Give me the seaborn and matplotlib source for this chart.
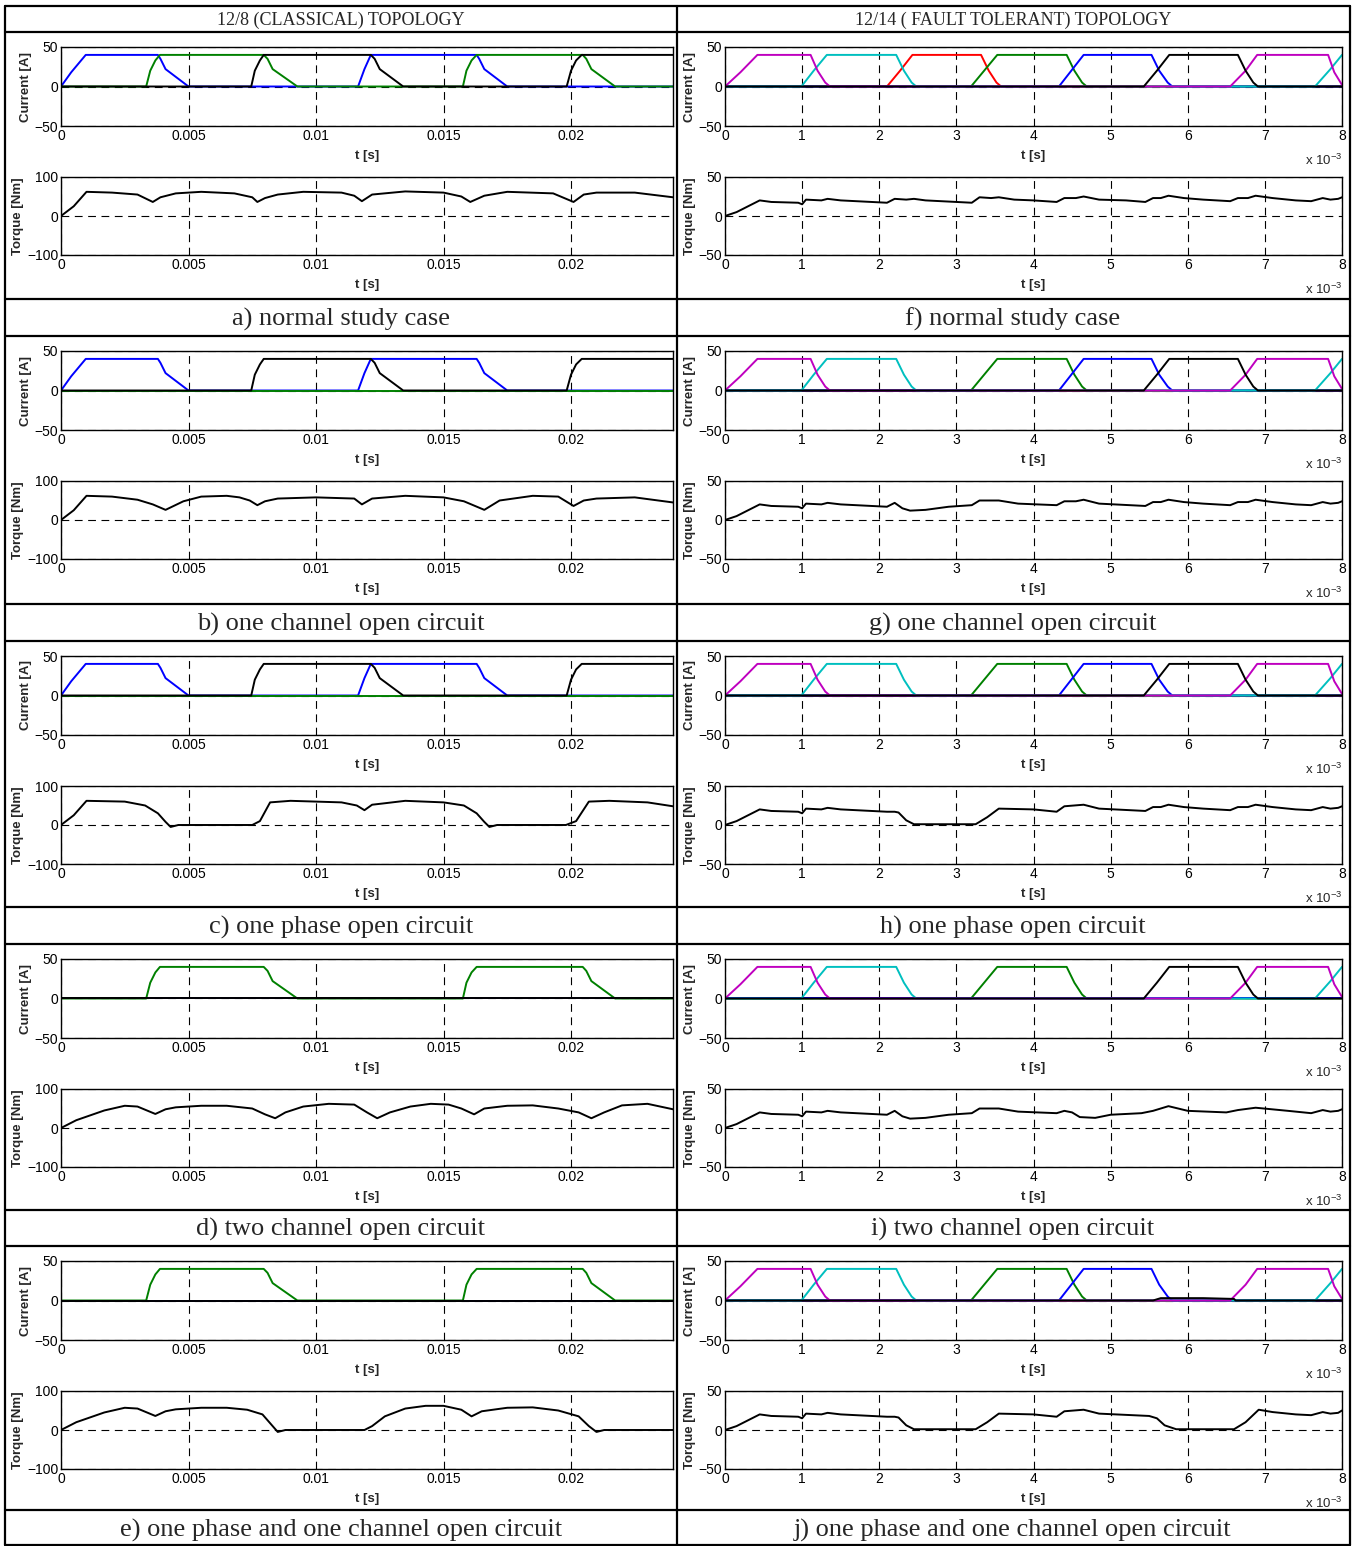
import matplotlib
matplotlib.use('Agg')
import matplotlib.pyplot as plt
from matplotlib.lines import Line2D
import seaborn as sns

# ---------------- 12/8 classical topology (time in s) ----------------
t_blue = [0, 0.0004, 0.00097, 0.0038, 0.0039, 0.0041, 0.0050, 0.01165, 0.0119, 0.01215,
          0.0163, 0.0164, 0.0166, 0.0175, 0.024]
i_blue = [0, 18, 40, 40, 35, 22, 0, 0, 22, 40, 40, 35, 22, 0, 0]

t_green = [0, 0.00334, 0.0035, 0.0037, 0.00388, 0.00795, 0.0081, 0.0083, 0.00927,
           0.01576, 0.0159, 0.0161, 0.0163, 0.02046, 0.0206, 0.0208, 0.02173, 0.024]
i_green = [0, 0, 20, 33, 40, 40, 35, 22, 0, 0, 20, 33, 40, 40, 35, 22, 0, 0]

t_black = [0, 0.00746, 0.0076, 0.0078, 0.00795, 0.01215, 0.0123, 0.0125, 0.01342,
           0.01983, 0.0200, 0.0202, 0.02042, 0.024]
i_black = [0, 0, 20, 33, 40, 40, 35, 22, 0, 0, 20, 33, 40, 40]

t_off_l = [0, 0.024]
i_off_l = [0, 0]

t_Ta = [0, 0.0005, 0.001, 0.002, 0.003, 0.0036, 0.0039, 0.0045, 0.0055, 0.0068,
        0.0075, 0.0077, 0.008, 0.0085, 0.0095, 0.011, 0.0115, 0.0118, 0.0122, 0.0135,
        0.015, 0.0157, 0.01605, 0.0166, 0.0175, 0.0193, 0.0201, 0.0205, 0.021, 0.0225, 0.024]
T_a = [0, 25, 62, 60, 55, 36, 48, 58, 62, 58,
       48, 36, 46, 55, 62, 60, 52, 38, 55, 63,
       60, 50, 36, 52, 62, 58, 36, 55, 60, 60, 48]

t_Tb = [0, 0.0005, 0.001, 0.002, 0.003, 0.0036, 0.0041, 0.0048, 0.0055, 0.0065,
        0.007, 0.0074, 0.0077, 0.008, 0.0085, 0.01, 0.0115, 0.0118, 0.0122, 0.0135,
        0.015, 0.0158, 0.0166, 0.0172, 0.0185, 0.0195, 0.0201, 0.0205, 0.021, 0.0225, 0.024]
T_b = [0, 25, 62, 60, 52, 40, 26, 48, 60, 62,
       58, 50, 38, 48, 55, 58, 55, 40, 55, 62,
       58, 48, 26, 50, 62, 60, 36, 50, 55, 58, 45]

t_Tc = [0, 0.0005, 0.001, 0.0025, 0.0033, 0.0038, 0.0041, 0.0043, 0.0046, 0.0075,
        0.0078, 0.0082, 0.009, 0.011, 0.0116, 0.0119, 0.0122, 0.0126, 0.0135, 0.015,
        0.0158, 0.0163, 0.0166, 0.0168, 0.0171, 0.0198, 0.0202, 0.0207, 0.0215, 0.023, 0.024]
T_c = [0, 25, 62, 60, 50, 30, 8, -5, 0, 0,
       10, 58, 62, 58, 50, 38, 52, 55, 62, 58,
       50, 30, 8, -5, 0, 0, 10, 60, 62, 58, 48]

t_Td = [0, 0.0006, 0.0017, 0.0025, 0.003, 0.0037, 0.0041, 0.0045, 0.0055, 0.0065,
        0.0075, 0.008, 0.0084, 0.0088, 0.0095, 0.0105, 0.0115, 0.012, 0.0124, 0.0129,
        0.0137, 0.0145, 0.0152, 0.0157, 0.0162, 0.0166, 0.0175, 0.0185, 0.0195, 0.0203,
        0.0208, 0.0213, 0.022, 0.023, 0.024]
T_d = [0, 20, 45, 57, 55, 36, 48, 53, 57, 57,
       50, 35, 25, 40, 55, 62, 60, 40, 25, 40,
       55, 62, 60, 50, 35, 50, 57, 58, 50, 40,
       25, 40, 58, 62, 48]

t_Te = [0, 0.0006, 0.0017, 0.0025, 0.003, 0.0037, 0.0041, 0.0045, 0.0055, 0.0065,
        0.0073, 0.0079, 0.0083, 0.0085, 0.0088, 0.0119, 0.0122, 0.0127, 0.0135, 0.0143,
        0.015, 0.0157, 0.0161, 0.0165, 0.0175, 0.0185, 0.0195, 0.0203, 0.0207, 0.021,
        0.0213, 0.024]
T_e = [0, 20, 45, 57, 55, 36, 48, 53, 57, 57,
       52, 40, 10, -5, 0, 0, 10, 35, 55, 62,
       62, 52, 35, 48, 57, 58, 50, 35, 10, -5,
       0, 0]

# ---------------- 12/14 fault tolerant topology (time in ms) ----------------
t_red = [0, 2.1, 2.27, 2.43, 3.32, 3.42, 3.52, 3.58, 8.0]
i_red = [0, 0, 20, 40, 40, 20, 5, 0, 0]
t_grn = [0, 3.19, 3.36, 3.53, 4.43, 4.53, 4.63, 4.69, 8.0]
i_grn = [0, 0, 20, 40, 40, 20, 5, 0, 0]
t_blu = [0, 4.33, 4.49, 4.65, 5.53, 5.63, 5.74, 5.8, 8.0]
i_blu = [0, 0, 20, 40, 40, 20, 5, 0, 0]
t_cyn = [0, 0.99, 1.15, 1.32, 2.22, 2.32, 2.42, 2.48, 7.65, 7.85, 8.0]
i_cyn = [0, 0, 20, 40, 40, 20, 5, 0, 0, 22, 40]
t_mag = [0, 0.2, 0.42, 1.11, 1.2, 1.3, 1.36, 6.55, 6.75, 6.9, 7.82, 7.9, 8.0]
i_mag = [0, 18, 40, 40, 20, 5, 0, 0, 20, 40, 40, 18, 2]
t_blk = [0, 5.43, 5.6, 5.76, 6.65, 6.75, 6.85, 6.91, 8.0]
i_blk = [0, 0, 20, 40, 40, 20, 5, 0, 0]
t_blk_j = [0, 5.55, 5.65, 6.2, 6.6, 6.62, 8.0]
i_blk_j = [0, 0, 3, 3, 2, 0, 0]
t_off_r = [0, 8.0]
i_off_r = [0, 0]

t_Tf = [0, 0.15, 0.45, 0.6, 0.95, 1.0, 1.05, 1.25, 1.33, 1.5,
        1.9, 2.1, 2.2, 2.35, 2.45, 2.6, 3.0, 3.2, 3.3, 3.45,
        3.55, 3.75, 4.0, 4.3, 4.4, 4.55, 4.65, 4.85, 5.2, 5.45,
        5.55, 5.65, 5.75, 5.95, 6.2, 6.55, 6.65, 6.78, 6.88, 7.1,
        7.4, 7.6, 7.75, 7.85, 7.95, 8.0]
T_f = [0, 5, 20, 18, 17, 15, 21, 20, 22, 20,
       18, 17, 22, 21, 22, 20, 18, 17, 24, 23,
       24, 21, 20, 18, 23, 23, 25, 21, 20, 18,
       23, 23, 26, 23, 21, 19, 23, 23, 26, 23,
       20, 19, 23, 21, 22, 24]

t_Tg = [0, 0.15, 0.45, 0.6, 0.95, 1.0, 1.05, 1.25, 1.33, 1.5,
        1.9, 2.1, 2.2, 2.3, 2.4, 2.6, 2.9, 3.2, 3.3, 3.55,
        3.8, 4.3, 4.4, 4.55, 4.65, 4.85, 5.45, 5.55, 5.65, 5.75,
        5.95, 6.2, 6.55, 6.65, 6.78, 6.88, 7.1, 7.4, 7.6, 7.75,
        7.85, 7.95, 8.0]
T_g = [0, 5, 20, 18, 17, 15, 21, 20, 22, 20,
       18, 17, 22, 15, 12, 13, 17, 19, 25, 25,
       21, 19, 24, 24, 26, 21, 18, 23, 23, 26,
       23, 21, 19, 23, 23, 26, 23, 20, 19, 23,
       21, 22, 24]

t_Th = [0, 0.15, 0.45, 0.6, 0.95, 1.0, 1.05, 1.25, 1.33, 1.5,
        1.9, 2.1, 2.2, 2.25, 2.35, 2.45, 3.25, 3.4, 3.55, 4.0,
        4.3, 4.4, 4.65, 4.85, 5.45, 5.55, 5.65, 5.75, 5.95, 6.2,
        6.55, 6.65, 6.78, 6.88, 7.1, 7.4, 7.6, 7.75, 7.85, 7.95, 8.0]
T_h = [0, 5, 20, 18, 17, 15, 21, 20, 22, 20,
       18, 17, 17, 16, 6, 1, 1, 10, 21, 20,
       17, 24, 26, 21, 18, 23, 23, 26, 23, 21,
       19, 23, 23, 26, 23, 20, 19, 23, 21, 22, 24]

t_Ti = [0, 0.15, 0.45, 0.6, 0.95, 1.0, 1.05, 1.25, 1.33, 1.5,
        1.9, 2.1, 2.2, 2.3, 2.4, 2.6, 2.9, 3.2, 3.3, 3.55,
        3.8, 4.3, 4.4, 4.5, 4.6, 4.8, 5.0, 5.4, 5.55, 5.65,
        5.75, 6.0, 6.5, 6.65, 6.88, 7.3, 7.6, 7.75, 7.85, 7.95, 8.0]
T_i = [0, 5, 20, 18, 17, 15, 21, 20, 22, 20,
       18, 17, 22, 15, 12, 13, 17, 19, 25, 25,
       21, 19, 22, 20, 14, 13, 17, 19, 22, 25,
       28, 22, 20, 23, 26, 22, 19, 23, 21, 22, 24]

t_Tj = [0, 0.15, 0.45, 0.6, 0.95, 1.0, 1.05, 1.25, 1.33, 1.5,
        1.9, 2.1, 2.2, 2.25, 2.35, 2.45, 3.25, 3.4, 3.55, 4.0,
        4.3, 4.4, 4.65, 4.85, 5.5, 5.6, 5.7, 5.85, 6.6, 6.75,
        6.92, 7.1, 7.4, 7.6, 7.75, 7.85, 7.95, 8.0]
T_j = [0, 5, 20, 18, 17, 15, 21, 20, 22, 20,
       18, 17, 17, 16, 6, 1, 1, 10, 21, 20,
       17, 24, 26, 21, 18, 15, 6, 1, 1, 10,
       26, 23, 20, 19, 23, 21, 22, 25]

captions_left = ['a) normal study case', 'b) one channel open circuit', 'c) one phase open circuit',
                 'd) two channel open circuit', 'e) one phase and one channel open circuit']
captions_right = ['f) normal study case', 'g) one channel open circuit', 'h) one phase open circuit',
                  'i) two channel open circuit', 'j) one phase and one channel open circuit']

# colours (old MATLAB order)
C_B, C_G, C_K = '#0000FF', '#008000', '#000000'
C_R, C_C, C_M = '#FF0000', '#00BFBF', '#BF00BF'

blue_on, green_on, black_on = (t_blue, i_blue), (t_green, i_green), (t_black, i_black)
off_l = (t_off_l, i_off_l)
left_currents = [
    [(blue_on, C_B), (green_on, C_G), (black_on, C_K)],
    [(blue_on, C_B), (off_l, C_G), (black_on, C_K)],
    [(blue_on, C_B), (off_l, C_G), (black_on, C_K)],
    [(off_l, C_B), (green_on, C_G), (off_l, C_K)],
    [(off_l, C_B), (green_on, C_G), (off_l, C_K)],
]
left_torques = [(t_Ta, T_a), (t_Tb, T_b), (t_Tc, T_c), (t_Td, T_d), (t_Te, T_e)]

red_on, grn_on, blu_on = (t_red, i_red), (t_grn, i_grn), (t_blu, i_blu)
cyn_on, mag_on, blk_on = (t_cyn, i_cyn), (t_mag, i_mag), (t_blk, i_blk)
off_r = (t_off_r, i_off_r)
right_currents = [
    [(red_on, C_R), (grn_on, C_G), (blu_on, C_B), (cyn_on, C_C), (mag_on, C_M), (blk_on, C_K)],
    [(off_r, C_R), (grn_on, C_G), (blu_on, C_B), (cyn_on, C_C), (mag_on, C_M), (blk_on, C_K)],
    [(off_r, C_R), (grn_on, C_G), (blu_on, C_B), (cyn_on, C_C), (mag_on, C_M), (blk_on, C_K)],
    [(off_r, C_R), (grn_on, C_G), (off_r, C_B), (cyn_on, C_C), (mag_on, C_M), (blk_on, C_K)],
    [(off_r, C_R), (grn_on, C_G), (blu_on, C_B), (cyn_on, C_C), (mag_on, C_M), ((t_blk_j, i_blk_j), C_K)],
]
right_torques = [(t_Tf, T_f), (t_Tg, T_g), (t_Th, T_h), (t_Ti, T_i), (t_Tj, T_j)]

# ---------------- figure ----------------
sns.set_style('white')
plt.rcParams['font.family'] = ['Liberation Sans', 'DejaVu Sans']
plt.rcParams['mathtext.fontset'] = 'custom'
plt.rcParams['mathtext.rm'] = 'Liberation Sans'

W, H = 1363, 1546
fig = plt.figure(figsize=(W / 100, H / 100), dpi=100)
fig.patch.set_facecolor('white')


def fx(px):
    return px / W


def fy(py):
    return 1 - py / H


def hline(y, x0=5, x1=1350):
    fig.add_artist(Line2D([fx(x0), fx(x1)], [fy(y), fy(y)], color='k', lw=1.6))


def vline(x, y0=6, y1=1545):
    fig.add_artist(Line2D([fx(x), fx(x)], [fy(y0), fy(y1)], color='k', lw=1.6))


for y in [6, 32, 299, 336, 604, 641, 907, 944, 1210, 1246, 1510, 1545]:
    hline(y)
for x in [5, 677, 1350]:
    vline(x)

fig.text(fx(341), fy(20), '12/8 (CLASSICAL) TOPOLOGY', family='Liberation Serif',
         fontsize=13, ha='center', va='center')
fig.text(fx(1013), fy(20), '12/14 ( FAULT TOLERANT) TOPOLOGY', family='Liberation Serif',
         fontsize=13, ha='center', va='center')

panel_tops = [32, 336, 641, 944, 1246]
caption_y = [319, 624, 927, 1229, 1530]


def make_axes(x0, x1, y0, y1):
    return fig.add_axes([fx(x0), fy(y1), fx(x1 - x0), (y1 - y0) / H])


def style_axes(ax, xlim, xticks, xticklabels, ylim, yticks, ylabel, sci):
    ax.set_xlim(*xlim)
    ax.set_ylim(*ylim)
    ax.set_xticks(xticks)
    ax.set_xticklabels(xticklabels)
    ax.set_yticks(yticks)
    ax.tick_params(direction='in', length=3, labelsize=10, pad=2, colors='k')
    ax.grid(True, color='k', linestyle=(0, (7, 5)), linewidth=0.8)
    ax.set_axisbelow(True)
    for s in ax.spines.values():
        s.set_color('k')
        s.set_linewidth(1.0)
    ax.set_xlabel('t [s]', fontsize=9.5, fontweight='bold', labelpad=5)
    ax.set_ylabel(ylabel, fontsize=9.5, fontweight='bold', labelpad=2)
    if sci:
        ax.text(0.97, -0.44, r'x 10$^{\mathregular{-3}}$', transform=ax.transAxes,
                fontsize=9.5, ha='center', va='center')


def draw(ax, curves):
    for (t, v), c in curves:
        sns.lineplot(x=t, y=v, color=c, lw=1.4, ax=ax, estimator=None, sort=False)


left_xt = [0, 0.005, 0.01, 0.015, 0.02]
left_xl = ['0', '0.005', '0.01', '0.015', '0.02']
right_xt = list(range(9))
right_xl = [str(v) for v in right_xt]

for k, P in enumerate(panel_tops):
    # left column
    ax = make_axes(61, 673, P + 15, P + 94)
    draw(ax, left_currents[k])
    style_axes(ax, (0, 0.024), left_xt, left_xl, (-50, 50), [-50, 0, 50], 'Current [A]', False)
    ax = make_axes(61, 673, P + 145, P + 223)
    draw(ax, [(left_torques[k], C_K)])
    style_axes(ax, (0, 0.024), left_xt, left_xl, (-100, 100), [-100, 0, 100], 'Torque [Nm]', False)

    # right column
    ax = make_axes(725, 1342, P + 15, P + 94)
    draw(ax, right_currents[k])
    style_axes(ax, (0, 8), right_xt, right_xl, (-50, 50), [-50, 0, 50], 'Current [A]', True)
    ax = make_axes(725, 1342, P + 145, P + 223)
    draw(ax, [(right_torques[k], C_K)])
    style_axes(ax, (0, 8), right_xt, right_xl, (-50, 50), [-50, 0, 50], 'Torque [Nm]', True)

    fig.text(fx(341), fy(caption_y[k]), captions_left[k], family='Liberation Serif',
             fontsize=19, ha='center', va='center')
    fig.text(fx(1013), fy(caption_y[k]), captions_right[k], family='Liberation Serif',
             fontsize=19, ha='center', va='center')

fig.savefig('out.png', dpi=100, facecolor='white')
